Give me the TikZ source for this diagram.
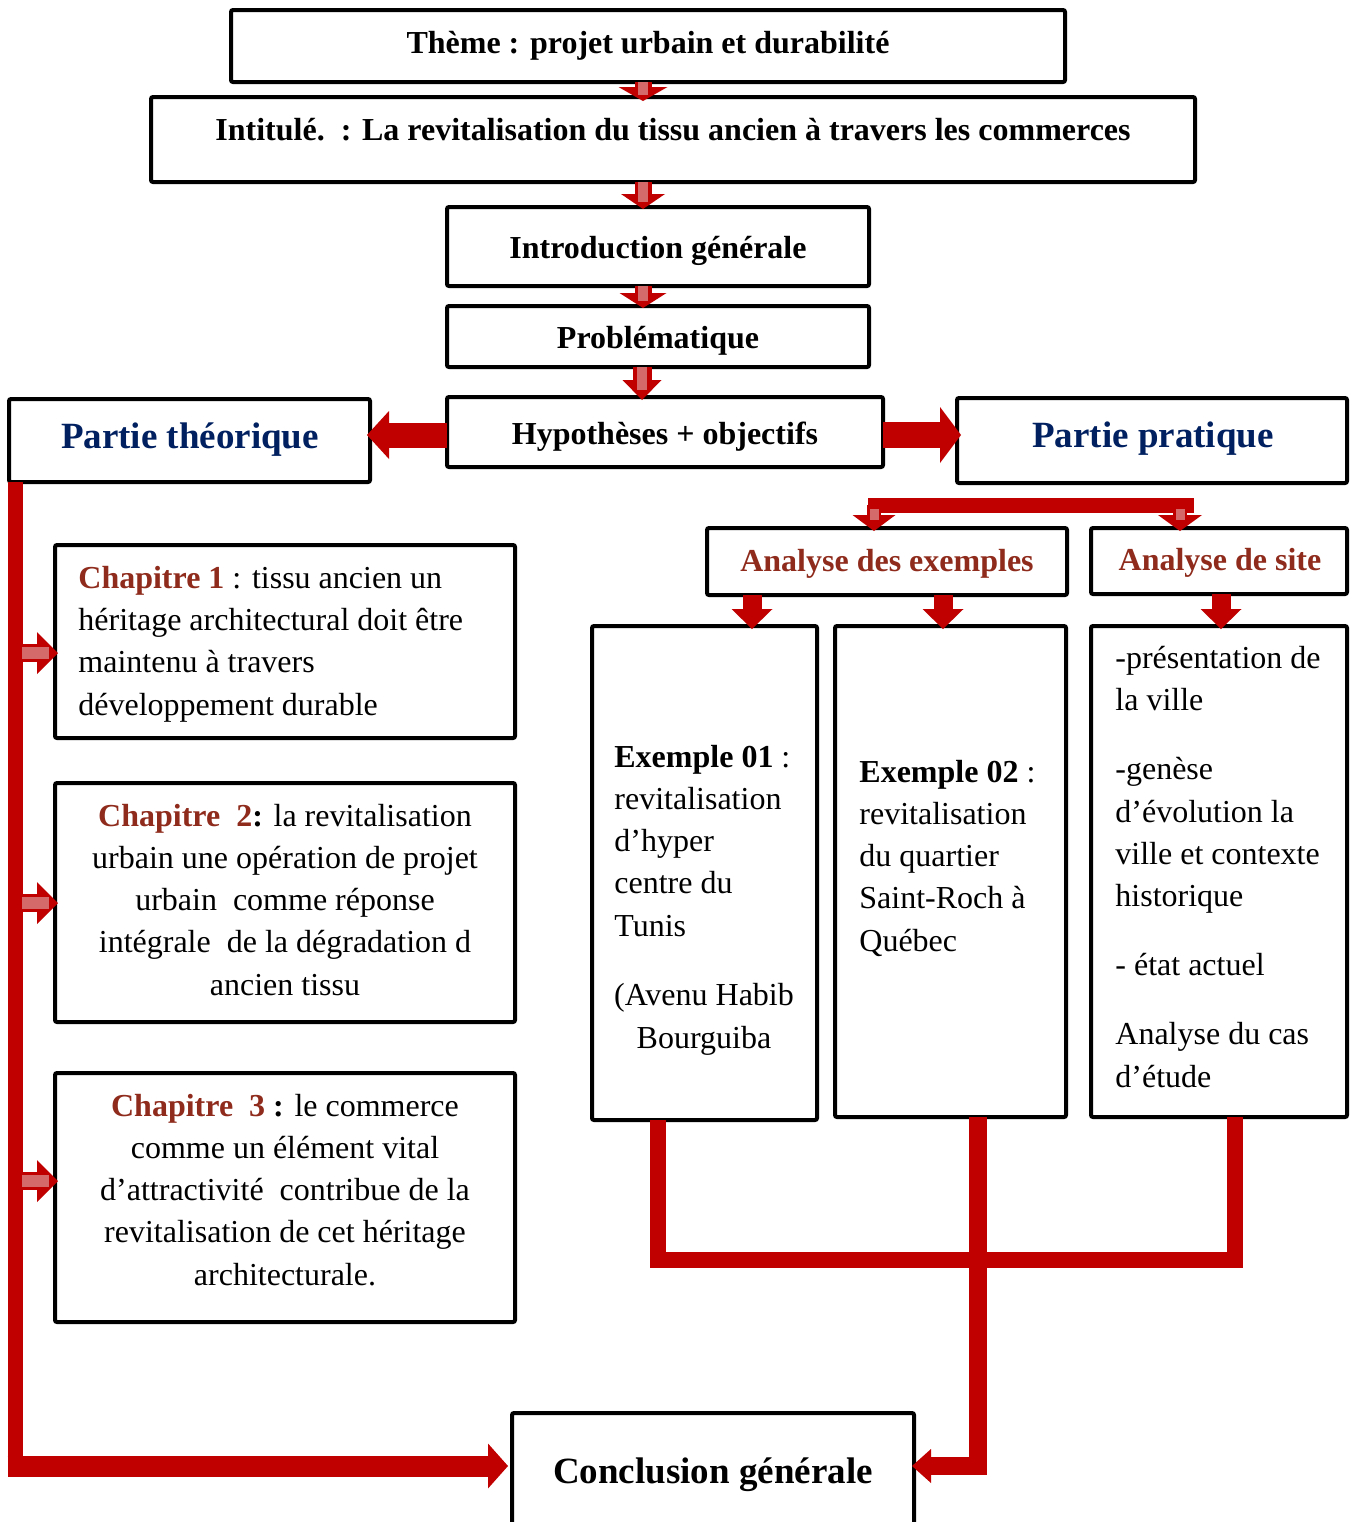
\documentclass[tikz,border=0pt]{standalone}
\usepackage{fontspec}
\setmainfont{Liberation Serif}
\usetikzlibrary{arrows.meta,calc}
\definecolor{arrred}{HTML}{C00000}
\definecolor{hlred}{HTML}{D46A6A}
\definecolor{chapred}{HTML}{8E2B1C}
\definecolor{ptblue}{HTML}{002060}
\newcommand\mkbox[5]{\node[box, minimum width={(#4-#2)*0.5pt}, minimum height={(#5-#3)*0.5pt}] (#1) at ({(#2+#4)/2},{(#3+#5)/2}) {};}
\tikzset{
  box/.style={draw, line width=2pt, rounded corners=1pt, inner sep=0pt, outer sep=0pt},
  body/.style={font=\fontsize{16}{21.1}\selectfont, inner sep=0pt},
  headtxt/.style={font=\fontsize{16}{21.1}\selectfont\bfseries, inner sep=0pt},
  bigtxt/.style={font=\fontsize{18.5}{22}\selectfont\bfseries, inner sep=0pt},
  rbar/.style={draw=arrred, line width=#1},
  blkarrow/.style n args={3}{draw=arrred, line width=#1, -{Triangle[width=#2,length=#3,line width=0pt]}},
  hilite/.style={draw=hlred, line width=#1},
}
\begin{document}
\begin{tikzpicture}[x=0.5pt,y=-0.5pt]
\useasboundingbox (0,0) rectangle (1355,1522);
% boxes
\mkbox{theme}{231}{10}{1065}{82}
\mkbox{intit}{151}{97}{1195}{182}
\mkbox{intro}{447}{207}{869}{286}
\mkbox{prob}{447}{306}{869}{367}
\mkbox{hyp}{447}{397}{883}{467}
\mkbox{pth}{9}{399}{370}{482}
\mkbox{ppr}{957}{398}{1347}{483}
\mkbox{aex}{707}{528}{1067}{595}
\mkbox{asite}{1091}{528}{1347}{594}
\mkbox{exa}{592}{626}{817}{1120}
\mkbox{exb}{835}{626}{1066}{1117}
\mkbox{site}{1091}{626}{1347}{1117}
\mkbox{cha}{55}{545}{515}{738}
\mkbox{chb}{55}{783}{515}{1022}
\mkbox{chc}{55}{1073}{515}{1322}
\mkbox{conc}{512}{1413}{914}{1545}
% texts (multi-line nodes are anchored at the baseline of their last line)
\node[headtxt, anchor=base] (tTheme) at (648,53) {Thème : projet urbain et durabilité};
\node[headtxt, anchor=base] (tIntit) at (673,140) {Intitulé.\ \ : La revitalisation du tissu ancien à travers les commerces};
\node[headtxt, anchor=base] (tIntro) at (658,258) {Introduction générale};
\node[headtxt, anchor=base] (tProb) at (658,348) {Problématique};
\node[headtxt, anchor=base] (tHyp) at (665,444) {Hypothèses + objectifs};
\node[bigtxt, text=ptblue, anchor=base] (tPth) at (190,448) {Partie théorique};
\node[bigtxt, text=ptblue, anchor=base] (tPpr) at (1153,447) {Partie pratique};
\node[headtxt, text=chapred, anchor=base] (tAex) at (887,571) {Analyse des exemples};
\node[headtxt, text=chapred, anchor=base] (tAsite) at (1220,570) {Analyse de site};
\node[body, anchor=base west, align=left] (tExa) at (614,936) {\textbf{Exemple 01} :\\revitalisation\\d’hyper\\centre du\\Tunis};
\node[body, anchor=base, align=center] (tExa2) at (704,1048) {(Avenu Habib\\Bourguiba};
\node[body, anchor=base west, align=left] (tExb) at (859,951) {\textbf{Exemple 02} :\\revitalisation\\du quartier\\Saint-Roch à\\Québec};
\node[body, anchor=base west, align=left] (tSite) at (1115,1087) {-présentation de\\la ville\\[13.5pt]-genèse\\d’évolution la\\ville et contexte\\historique\\[13.5pt]- état actuel\\[13.5pt]Analyse du cas\\d’étude};
\node[body, anchor=base west, align=left] (tCha) at (78,715) {\textcolor{chapred}{\textbf{Chapitre 1}} : tissu ancien un\\héritage architectural doit être\\maintenu à travers\\développement durable};
\node[body, anchor=base, align=center] (tChb) at (285,995) {\textcolor{chapred}{\textbf{Chapitre\ \ 2}}\textbf{:} la revitalisation\\urbain une opération de projet\\urbain\ \ comme réponse\\intégrale\ \ de la dégradation d\\ancien tissu};
\node[body, anchor=base, align=center] (tChc) at (285,1285) {\textcolor{chapred}{\textbf{Chapitre\ \ 3}} \textbf{:} le commerce\\comme un élément vital\\d’attractivité\ \ contribue de la\\revitalisation de cet héritage\\architecturale.};
\node[bigtxt, anchor=base] (tConc) at (713,1483) {Conclusion générale};
% coordinates
\coordinate (xa) at (643,0);
\coordinate (xb) at (642,0);
\coordinate (yh) at (0,435);
\coordinate (bl) at (874,505);
\coordinate (br) at (1180,505);
\coordinate (barL) at (868,505);
\coordinate (barR) at (1194,505);
\coordinate (e1) at (752,0);
\coordinate (e2) at (943,0);
\coordinate (e3) at (1221,0);
\coordinate (v1) at (658,0);
\coordinate (v2) at (978,0);
\coordinate (v3) at (1235,0);
\coordinate (hb) at (0,1260);
\coordinate (cy) at (0,1466);
\coordinate (cyb) at (0,1476.5);
\coordinate (sp) at (15,0);
\coordinate (c1) at (0,653);
\coordinate (c2) at (0,903);
\coordinate (c3) at (0,1181);
% small down arrows
\draw[blkarrow={8.5pt}{24.5pt}{7pt}] (theme.south -| xa) -- ($(intit.north -| xa)+(0,4)$);
\draw[hilite=5pt] (theme.south -| xa) -- ($(intit.north -| xa)+(0,-2)$);
\draw[blkarrow={8.5pt}{22pt}{7.5pt}] (intit.south -| xa) -- ($(intro.north -| xa)+(0,2)$);
\draw[hilite=5pt] (intit.south -| xa) -- ($(intro.north -| xa)+(0,-5)$);
\draw[blkarrow={8.5pt}{23.5pt}{7.5pt}] (intro.south -| xa) -- ($(prob.north -| xa)+(0,2)$);
\draw[hilite=5pt] (intro.south -| xa) -- ($(prob.north -| xa)+(0,-5)$);
\draw[blkarrow={9.5pt}{19.5pt}{10pt}] (prob.south -| xb) -- ($(hyp.north -| xb)+(0,3)$);
\draw[hilite=5pt] (prob.south -| xb) -- ($(hyp.north -| xb)+(0,-7)$);
% hypotheses arrows
\draw[blkarrow={12.5pt}{24pt}{11pt}] (hyp.west |- yh) -- ($(pth.east |- yh)+(-3,0)$);
\draw[blkarrow={13pt}{28pt}{10.5pt}] (hyp.east |- yh) -- ($(ppr.west |- yh)+(4,0)$);
% partie pratique branch
\draw[rbar=7.5pt] (barL) -- (barR);
\draw[blkarrow={7pt}{21.5pt}{8pt}] (bl) -- ($(aex.north -| bl)+(0,3)$);
\draw[hilite=4.5pt] ($(bl)+(0,4)$) -- ($(aex.north -| bl)+(0,-8)$);
\draw[blkarrow={7pt}{22pt}{8pt}] (br) -- ($(asite.north -| br)+(0,3)$);
\draw[hilite=4.5pt] ($(br)+(0,4)$) -- ($(asite.north -| br)+(0,-8)$);
% analyses to examples
\draw[blkarrow={9.5pt}{20.5pt}{10pt}] (aex.south -| e1) -- ($(exa.north -| e1)+(0,3)$);
\draw[blkarrow={9.5pt}{20.5pt}{10pt}] (aex.south -| e2) -- ($(exb.north -| e2)+(0,3)$);
\draw[blkarrow={9.5pt}{20.5pt}{10pt}] (asite.south -| e3) -- ($(site.north -| e3)+(0,3)$);
% bottom connectors
\draw[rbar=8pt, line join=miter] (exa.south -| v1) |- (hb -| v3) -- (site.south -| v3);
\draw[blkarrow={9pt}{17pt}{9.5pt}, line join=miter] (exb.south -| v2) |- ($(conc.east |- cy)+(-2,0)$);
% left spine
\draw[rbar=7.5pt] (pth.south -| sp) -- (sp |- cyb);
\draw[blkarrow={10.5pt}{22.5pt}{10pt}] ($(sp |- cy)+(-7.5,0)$) -- ($(conc.west |- cy)+(-4,0)$);
% chapter arrows
\draw[blkarrow={9pt}{21pt}{10.5pt}] (c1 -| sp) -- ($(c1 -| cha.west)+(3,0)$);
\draw[hilite=6pt] ($(c1 -| sp)+(7,0)$) -- ($(c1 -| cha.west)+(-6,0)$);
\draw[blkarrow={9pt}{21pt}{10.5pt}] (c2 -| sp) -- ($(c2 -| chb.west)+(3,0)$);
\draw[hilite=6pt] ($(c2 -| sp)+(7,0)$) -- ($(c2 -| chb.west)+(-6,0)$);
\draw[blkarrow={9pt}{21pt}{10.5pt}] (c3 -| sp) -- ($(c3 -| chc.west)+(3,0)$);
\draw[hilite=6pt] ($(c3 -| sp)+(7,0)$) -- ($(c3 -| chc.west)+(-6,0)$);
\end{tikzpicture}
\end{document}
